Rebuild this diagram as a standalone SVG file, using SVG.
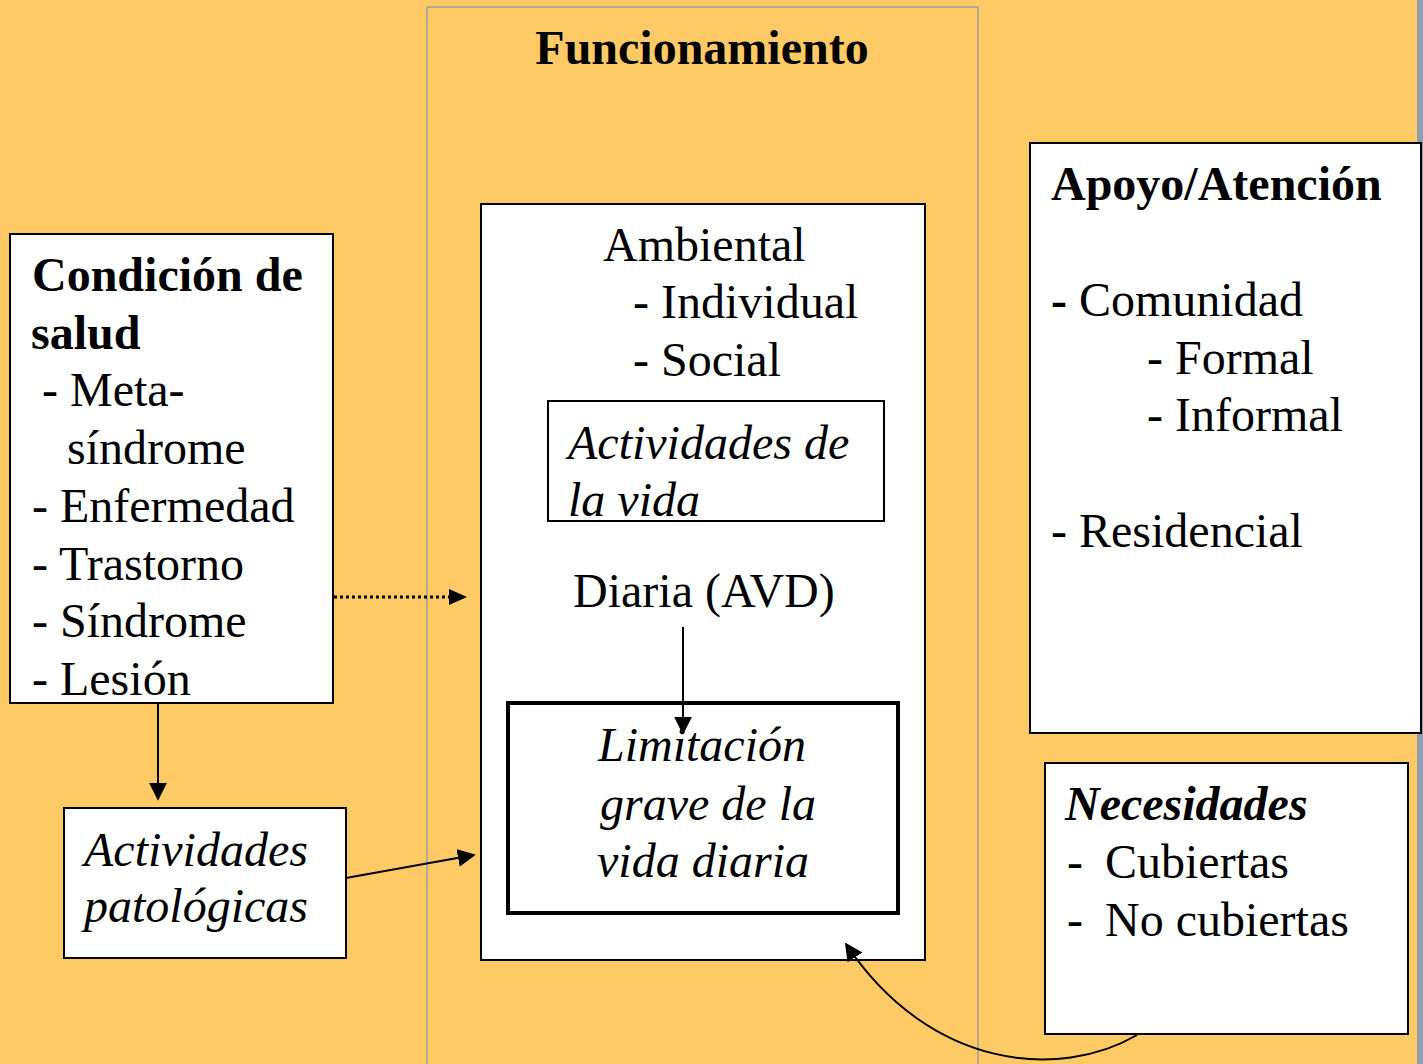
<svg xmlns="http://www.w3.org/2000/svg" width="1423" height="1064" viewBox="0 0 1423 1064">
<defs>
<style>
.box{fill:#fff;stroke:#000;stroke-width:2}
.t{font-family:"Liberation Serif","Times New Roman",serif;font-size:48px;fill:#000}
.b{font-weight:bold}
.i{font-style:italic}
.ln{stroke:#000;stroke-width:2;fill:none}
.dot{stroke:#000;stroke-width:3;stroke-dasharray:3,3;fill:none}
</style>
<marker id="ah" viewBox="0 0 10 10" refX="9" refY="5" markerWidth="18" markerHeight="18" markerUnits="userSpaceOnUse" orient="auto"><path d="M0,0 L10,5 L0,10 z" fill="#000"/></marker>
</defs>
<rect width="1423" height="1064" fill="#FECA66"/>
<rect x="1417" y="0" width="6" height="1064" fill="#8E9EB2"/>
<g id="funcionamiento">
<rect x="427" y="7" width="551" height="1070" fill="none" stroke="#A0A0A0" stroke-width="1.5"/>
<text class="t b" x="702" y="64" text-anchor="middle">Funcionamiento</text>
</g>
<g id="inner">
<rect class="box" x="481" y="204" width="444" height="756"/>
<text class="t" x="603" y="261">Ambiental</text>
<text class="t" x="633" y="318">- Individual</text>
<text class="t" x="633" y="376">- Social</text>
<text class="t" x="573" y="607">Diaria (AVD)</text>
</g>
<g id="actividades-vida">
<rect class="box" x="548" y="401" width="336" height="120"/>
<text class="t i" x="568" y="459">Actividades de</text>
<text class="t i" x="568" y="516">la vida</text>
</g>
<g id="limitacion">
<rect x="508" y="703" width="390" height="210" fill="#fff" stroke="#000" stroke-width="4"/>
<text class="t i" x="702" y="761" text-anchor="middle">Limitación</text>
<text class="t i" x="708" y="820" text-anchor="middle">grave de la</text>
<text class="t i" x="703" y="877" text-anchor="middle">vida diaria</text>
</g>
<g id="condicion">
<rect class="box" x="10" y="234" width="323" height="469"/>
<text class="t b" x="32" y="291">Condición de</text>
<text class="t b" x="31" y="349">salud</text>
<text class="t" x="42" y="406">- Meta-</text>
<text class="t" x="67" y="464">síndrome</text>
<text class="t" x="32" y="522">- Enfermedad</text>
<text class="t" x="32" y="580">- Trastorno</text>
<text class="t" x="32" y="637">- Síndrome</text>
<text class="t" x="32" y="695">- Lesión</text>
</g>
<g id="patologicas">
<rect class="box" x="64" y="808" width="282" height="150"/>
<text class="t i" x="84" y="866">Actividades</text>
<text class="t i" x="84" y="922">patológicas</text>
</g>
<g id="apoyo">
<rect class="box" x="1030" y="143" width="391" height="590"/>
<text class="t b" x="1051" y="200">Apoyo/Atención</text>
<text class="t" x="1051" y="316"><tspan class="b">-</tspan> Comunidad</text>
<text class="t" x="1147" y="374">- Formal</text>
<text class="t" x="1147" y="431">- Informal</text>
<text class="t" x="1051" y="547">- Residencial</text>
</g>
<g id="necesidades">
<rect class="box" x="1045" y="763" width="363" height="271"/>
<text class="t b i" x="1065" y="820">Necesidades</text>
<text class="t" x="1067" y="878">-</text>
<text class="t" x="1105" y="878">Cubiertas</text>
<text class="t" x="1067" y="936">-</text>
<text class="t" x="1105" y="936">No cubiertas</text>
</g>
<g id="connectors">
<line class="dot" x1="334" y1="597" x2="452" y2="597"/>
<path d="M449,589 L467,597 L449,605 z" fill="#000"/>
<line class="ln" x1="158" y1="703" x2="158" y2="799" marker-end="url(#ah)"/>
<line class="ln" x1="346" y1="878" x2="474" y2="855" marker-end="url(#ah)"/>
<line class="ln" x1="683" y1="627" x2="683" y2="733" marker-end="url(#ah)"/>
<path class="ln" d="M1137,1035 C1060,1080 930,1070 846,944" marker-end="url(#ah)"/>
</g>
</svg>
